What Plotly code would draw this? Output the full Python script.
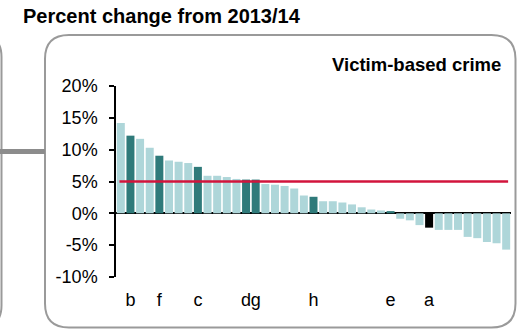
import plotly.graph_objects as go

# ---- data ----
values = [14.2, 12.2, 11.7, 10.3, 9.05, 8.3, 8.1, 7.9, 7.3, 5.9, 5.9, 5.7, 5.4, 5.3, 5.3,
          4.6, 4.5, 4.3, 3.9, 2.8, 2.6, 1.9, 1.9, 1.7, 1.4, 0.95, 0.6, 0.45, 0.35,
          -0.85, -1.1, -1.85, -2.25, -2.6, -2.6, -2.6, -3.7, -3.9, -4.5, -4.7, -5.7]
groups = ["l", "d", "l", "l", "d", "l", "l", "l", "d", "l", "l", "l", "l", "d", "d",
          "l", "l", "l", "l", "l", "d", "l", "l", "l", "l", "l", "l", "l", "d",
          "l", "l", "l", "k", "l", "l", "l", "l", "l", "l", "l", "l"]
labels = ["", "b", "", "", "f", "", "", "", "c", "", "", "", "", "d", "g",
          "", "", "", "", "", "h", "", "", "", "", "", "", "", "e",
          "", "", "", "a", "", "", "", "", "", "", "", ""]
average = 5.0
y_ticks = [-10, -5, 0, 5, 10, 15, 20]
y_tick_text = ["-10%", "-5%", "0%", "5%", "10%", "15%", "20%"]
title_text = "Percent change from 2013/14"
panel_text = "Victim-based crime"

# ---- styling ----
W, H = 517, 332
ML, MR, MT, MB = 116, 6, 86, 55
color_map = {"l": "#aed6d9", "d": "#2f7a7a", "k": "#000000"}
FONT = "Arial, Liberation Sans, sans-serif"

positions = list(range(1, len(values) + 1))
tickvals = [p for p, t in zip(positions, labels) if t]
ticktext = [t for t in labels if t]

pw, ph = W - ML - MR, H - MT - MB


def px(xp):
    return (xp - ML) / pw


def py(yp):
    return (H - MB - yp) / ph


def rounded_path(x0, y0, x1, y1, r):
    pts = [
        ("M", [(x0 + r, y0)]),
        ("L", [(x1 - r, y0)]),
        ("Q", [(x1, y0), (x1, y0 + r)]),
        ("L", [(x1, y1 - r)]),
        ("Q", [(x1, y1), (x1 - r, y1)]),
        ("L", [(x0 + r, y1)]),
        ("Q", [(x0, y1), (x0, y1 - r)]),
        ("L", [(x0, y0 + r)]),
        ("Q", [(x0, y0), (x0 + r, y0)]),
    ]
    s = ""
    for cmd, ps in pts:
        s += cmd + " " + " ".join(f"{px(a):.5f},{py(b):.5f}" for a, b in ps) + " "
    return s + "Z"


fig = go.Figure()
fig.add_trace(go.Bar(
    x=positions, y=values,
    marker=dict(color=[color_map[g] for g in groups], line=dict(width=0)),
    showlegend=False, hoverinfo="skip",
))
fig.add_trace(go.Scatter(
    x=[0.86, 41.2], y=[average, average], mode="lines",
    line=dict(color="#d2143c", width=2.5), showlegend=False, hoverinfo="skip",
))

shapes = [
    dict(type="path", xref="paper", yref="paper", path=rounded_path(45, 35, 515.5, 327.5, 24),
         line=dict(color="#9a9a9a", width=2), layer="below"),
    dict(type="path", xref="paper", yref="paper", path=rounded_path(-60, 35, 1.5, 327.5, 22),
         line=dict(color="#9a9a9a", width=2), layer="below"),
    dict(type="line", xref="paper", yref="paper", x0=px(0), x1=px(45), y0=py(151.5), y1=py(151.5),
         line=dict(color="#8c8c8c", width=5), layer="below"),
]

fig.update_layout(
    width=W, height=H,
    margin=dict(l=ML, r=MR, t=MT, b=MB, autoexpand=False),
    paper_bgcolor="white", plot_bgcolor="white",
    bargap=0.17,
    font=dict(family=FONT, size=18, color="#000000"),
    shapes=shapes,
    annotations=[
        dict(text="<b>" + title_text + "</b>", xref="paper", yref="paper",
             x=px(21), y=py(16), xanchor="left", yanchor="middle", showarrow=False,
             font=dict(size=20, family=FONT)),
        dict(text="<b>" + panel_text + "</b>", xref="paper", yref="paper",
             x=px(503), y=py(65), xanchor="right", yanchor="middle", showarrow=False,
             font=dict(size=18.5, family=FONT)),
    ],
    xaxis=dict(range=[0.5, len(values) + 0.5], tickvals=tickvals, ticktext=ticktext,
               tickangle=0, showgrid=False, zeroline=False, showline=False, ticks="",
               ticklabelstandoff=10, automargin=False, fixedrange=True),
    yaxis=dict(range=[-10, 20], tickvals=y_ticks, ticktext=y_tick_text,
               showgrid=False, zeroline=True, zerolinecolor="#000000", zerolinewidth=1.5,
               showline=True, linecolor="#000000", linewidth=1.5,
               ticks="outside", ticklen=5, tickcolor="#000000", tickwidth=1.5,
               ticklabelstandoff=8, automargin=False, fixedrange=True),
)

fig.write_html("out.html", config={"displayModeBar": False},
               post_script="document.body.style.margin='0';")
